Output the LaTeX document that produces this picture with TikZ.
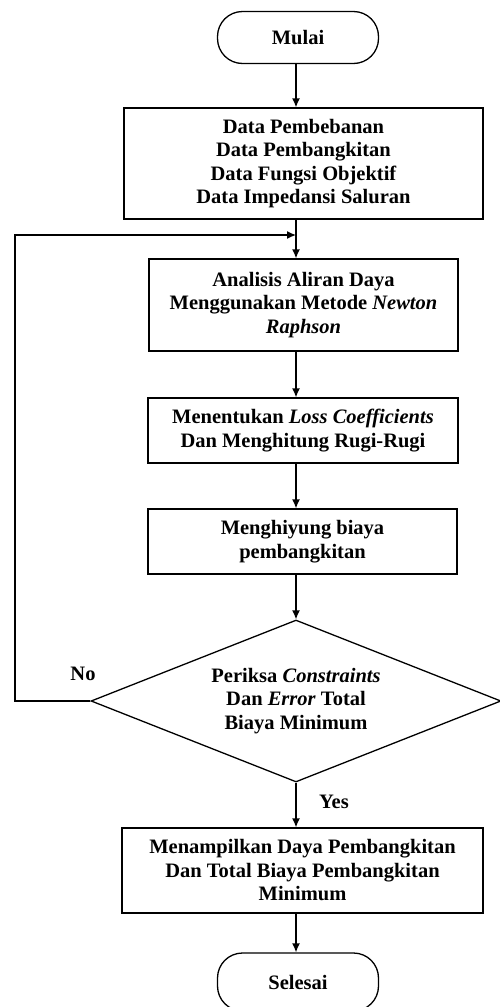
\documentclass[tikz,border=0pt]{standalone}
\usepackage{fontspec}
\setmainfont{Liberation Serif}
\usetikzlibrary{shapes.geometric,arrows.meta}
\begin{document}
\begin{tikzpicture}[x=1pt, y=-1pt, line width=1.3pt,
    font=\fontsize{20.5}{23.5}\selectfont\bfseries,
    kotak/.style={draw, rectangle, align=center, inner sep=0pt},
    terminal/.style={draw, rectangle, rounded corners=25pt, minimum width=161pt, minimum height=52pt},
    keputusan/.style={draw, diamond, aspect=2.5, align=center, inner sep=0pt, minimum width=410pt, minimum height=162pt},
    panah/.style={-{Latex[length=9pt,width=8pt]}}]
  \useasboundingbox (0,0) rectangle (500,1007);
  \node[terminal] (mulai) at (298,37.5) {Mulai};
  \node[kotak, minimum width=359pt, minimum height=111pt] (data) at (303.5,163.5)
    {Data Pembebanan\\Data Pembangkitan\\Data Fungsi Objektif\\Data Impedansi Saluran};
  \node[kotak, minimum width=309pt, minimum height=92pt] (aliran) at (303.5,305)
    {Analisis Aliran Daya\\Menggunakan Metode \textit{Newton}\\\textit{Raphson}};
  \node[kotak, minimum width=310pt, minimum height=65pt] (rugi) at (303,430.5)
    {Menentukan \textit{Loss Coefficients}\\Dan Menghitung Rugi-Rugi};
  \node[kotak, minimum width=309pt, minimum height=65pt] (biaya) at (302.5,541.5)
    {Menghiyung biaya\\pembangkitan};
  \node[keputusan] (periksa) at (296,701)
    {Periksa \textit{Constraints}\\Dan \textit{Error} Total\\Biaya Minimum};
  \node[kotak, minimum width=361pt, minimum height=85pt] (hasil) at (302.5,870.5)
    {Menampilkan Daya Pembangkitan\\Dan Total Biaya Pembangkitan\\Minimum};
  \node[terminal, minimum height=58pt] (selesai) at (298,982) {Selesai};
  \node (no) at (83,674) {No};
  \node (yes) at (334,802) {Yes};
  % garis alir
  \coordinate (sumbu) at (296,0);
  \coordinate (gabung) at (296,235);
  \coordinate (kiri) at (15,235);
  \draw[panah] (mulai.south -| sumbu) -- (data.north -| sumbu);
  \draw[panah] (data.south -| sumbu) -- (aliran.north -| sumbu);
  \draw[panah] (aliran.south -| sumbu) -- (rugi.north -| sumbu);
  \draw[panah] (rugi.south -| sumbu) -- (biaya.north -| sumbu);
  \draw[panah] (biaya.south -| sumbu) -- (periksa.north);
  \draw[panah] (periksa.south) -- (hasil.north -| sumbu);
  \draw[panah] (hasil.south -| sumbu) -- (selesai.north -| sumbu);
  \draw[panah] (periksa.west) -| (kiri) -- (gabung);
\end{tikzpicture}
\end{document}
